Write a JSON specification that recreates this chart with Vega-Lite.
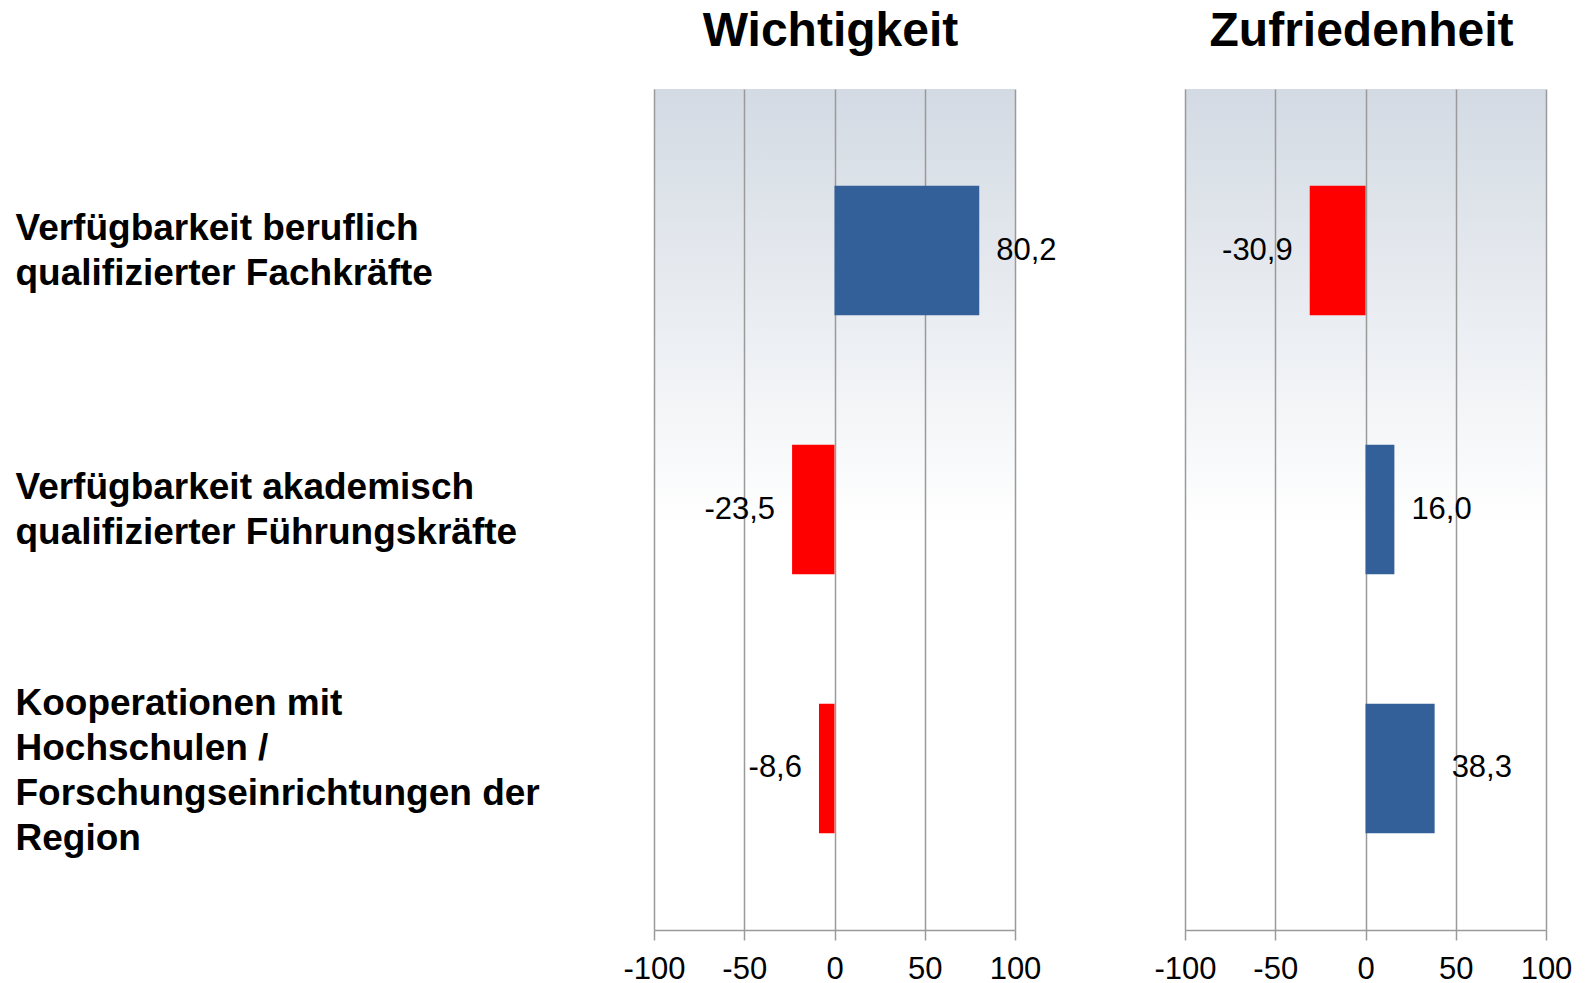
{
  "$schema": "https://vega.github.io/schema/vega-lite/v6.json",
  "padding": {"left": 15, "top": 8, "right": 5, "bottom": 5},
  "background": "white",
  "datasets": {
    "d": [
      {"panel": "Wichtigkeit", "cat": "Verfügbarkeit beruflich|qualifizierter Fachkräfte", "v": 80.2},
      {"panel": "Wichtigkeit", "cat": "Verfügbarkeit akademisch|qualifizierter Führungskräfte", "v": -23.5},
      {"panel": "Wichtigkeit", "cat": "Kooperationen mit|Hochschulen /|Forschungseinrichtungen der|Region", "v": -8.6},
      {"panel": "Zufriedenheit", "cat": "Verfügbarkeit beruflich|qualifizierter Fachkräfte", "v": -30.9},
      {"panel": "Zufriedenheit", "cat": "Verfügbarkeit akademisch|qualifizierter Führungskräfte", "v": 16.0},
      {"panel": "Zufriedenheit", "cat": "Kooperationen mit|Hochschulen /|Forschungseinrichtungen der|Region", "v": 38.3}
    ]
  },
  "hconcat": [
    {
      "title": {"text": "Wichtigkeit", "dx": -4},
      "width": 361,
      "height": 841,
      "data": {"name": "d"},
      "transform": [{"filter": "datum.panel === 'Wichtigkeit'"}],
      "encoding": {
        "y": {
          "field": "cat", "type": "nominal", "sort": null,
          "scale": {"paddingInner": 0.5, "paddingOuter": 0.374},
          "axis": {
            "title": null, "domain": false, "ticks": false,
            "labelAlign": "left", "labelBaseline": "middle", "labelPadding": 639,
            "labelLimit": 700, "labelFontSize": 37, "labelFontWeight": "bold",
            "labelFont": "Liberation Sans", "labelColor": "black", "labelLineHeight": 45,
            "labelOffset": {"condition": {"test": "indexof(datum.value, 'Kooperationen') === 0", "value": -64}, "value": -22},
            "labelExpr": "split(datum.value, '|')", "grid": false
          }
        }
      },
      "layer": [
        {
          "mark": {"type": "bar"},
          "encoding": {
            "x": {"field": "v", "type": "quantitative", "scale": {"domain": [-100, 100]}, "axis": {"values": [-100, -50, 0, 50, 100]}},
            "color": {"condition": {"test": "datum.v < 0", "value": "#ff0000"}, "value": "#34609a"}
          }
        },
        {
          "transform": [{"filter": "datum.v >= 0"}],
          "mark": {"type": "text", "align": "left", "dx": 17, "baseline": "middle", "fontSize": 31, "font": "Liberation Sans", "color": "black"},
          "encoding": {
            "x": {"field": "v", "type": "quantitative"},
            "text": {"field": "v", "type": "quantitative", "format": ".1f"}
          }
        },
        {
          "transform": [{"filter": "datum.v < 0"}],
          "mark": {"type": "text", "align": "right", "dx": -17, "baseline": "middle", "fontSize": 31, "font": "Liberation Sans", "color": "black"},
          "encoding": {
            "x": {"field": "v", "type": "quantitative"},
            "text": {"field": "v", "type": "quantitative", "format": ".1f"}
          }
        }
      ]
    },
    {
      "title": {"text": "Zufriedenheit", "dx": -4},
      "width": 361,
      "height": 841,
      "data": {"name": "d"},
      "transform": [{"filter": "datum.panel === 'Zufriedenheit'"}],
      "encoding": {
        "y": {
          "field": "cat", "type": "nominal", "sort": null,
          "scale": {"paddingInner": 0.5, "paddingOuter": 0.374},
          "axis": null
        }
      },
      "layer": [
        {
          "mark": {"type": "bar"},
          "encoding": {
            "x": {"field": "v", "type": "quantitative", "scale": {"domain": [-100, 100]}, "axis": {"values": [-100, -50, 0, 50, 100]}},
            "color": {"condition": {"test": "datum.v < 0", "value": "#ff0000"}, "value": "#34609a"}
          }
        },
        {
          "transform": [{"filter": "datum.v >= 0"}],
          "mark": {"type": "text", "align": "left", "dx": 17, "baseline": "middle", "fontSize": 31, "font": "Liberation Sans", "color": "black"},
          "encoding": {
            "x": {"field": "v", "type": "quantitative"},
            "text": {"field": "v", "type": "quantitative", "format": ".1f"}
          }
        },
        {
          "transform": [{"filter": "datum.v < 0"}],
          "mark": {"type": "text", "align": "right", "dx": -17, "baseline": "middle", "fontSize": 31, "font": "Liberation Sans", "color": "black"},
          "encoding": {
            "x": {"field": "v", "type": "quantitative"},
            "text": {"field": "v", "type": "quantitative", "format": ".1f"}
          }
        }
      ]
    }
  ],
  "spacing": 170,
  "bounds": "flush",
  "config": {
    "locale": {"number": {"decimal": ",", "thousands": ".", "grouping": [3], "currency": ["", " €"], "minus": "-"}},
    "view": {
      "stroke": null,
      "fill": {"gradient": "linear", "x1": 0, "y1": 0, "x2": 0, "y2": 1, "stops": [{"offset": 0, "color": "#d3dae3"}, {"offset": 0.52, "color": "#ffffff"}, {"offset": 1, "color": "#ffffff"}]}
    },
    "title": {"font": "Liberation Sans", "fontSize": 48, "fontWeight": "bold", "color": "black", "anchor": "middle", "baseline": "alphabetic", "offset": 33},
    "axisX": {
      "title": null,
      "grid": true, "gridColor": "#9a9a9a", "gridWidth": 1.5,
      "domainColor": "#9a9a9a", "domainWidth": 1.5,
      "tickColor": "#9a9a9a", "tickSize": 10, "tickWidth": 1.5,
      "labelFont": "Liberation Sans", "labelFontSize": 31, "labelColor": "black",
      "labelPadding": 14, "labelFlush": false, "labelOverlap": false
    }
  }
}
